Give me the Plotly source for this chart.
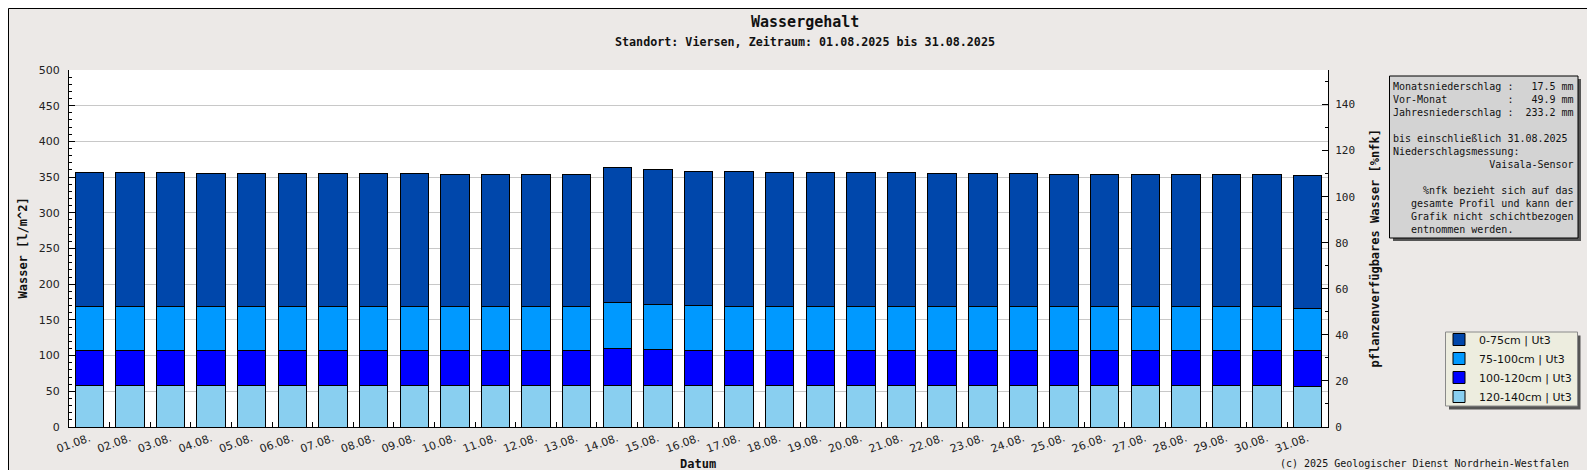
import plotly.graph_objects as go

# --- data (l/m^2 per layer, stacked) ---
DAYS = ["01.08.", "02.08.", "03.08.", "04.08.", "05.08.", "06.08.", "07.08.", "08.08.",
        "09.08.", "10.08.", "11.08.", "12.08.", "13.08.", "14.08.", "15.08.", "16.08.",
        "17.08.", "18.08.", "19.08.", "20.08.", "21.08.", "22.08.", "23.08.", "24.08.",
        "25.08.", "26.08.", "27.08.", "28.08.", "29.08.", "30.08.", "31.08."]
L120_140 = [57.8, 57.8, 57.8, 57.8, 57.8, 57.8, 57.8, 57.8, 57.8, 57.8, 57.8, 57.8, 57.8,
            58.2, 58.0, 57.8, 57.8, 57.8, 57.8, 57.8, 57.8, 57.8, 57.8, 57.8, 57.8, 57.8,
            57.8, 57.8, 57.8, 57.8, 56.5]
L100_120 = [49.2, 49.2, 49.2, 49.2, 49.2, 49.2, 49.2, 49.2, 49.2, 49.2, 49.2, 49.2, 49.2,
            51.6, 50.4, 49.2, 49.2, 49.2, 49.2, 49.2, 49.2, 49.2, 49.2, 49.2, 49.2, 49.2,
            49.2, 49.2, 49.2, 49.2, 50.5]
L75_100 = [62.0, 61.2, 61.2, 61.2, 61.2, 61.2, 61.2, 61.2, 61.2, 61.2, 61.2, 61.2, 61.2,
           63.9, 62.5, 62.5, 61.2, 61.2, 61.2, 61.2, 61.2, 61.2, 61.2, 61.2, 61.2, 61.2,
           61.2, 61.2, 61.2, 61.2, 59.5]
L0_75 = [187.0, 187.8, 187.8, 186.5, 186.5, 186.5, 186.5, 186.5, 186.5, 185.1, 185.1,
         185.1, 185.1, 190.3, 190.3, 188.9, 190.2, 188.8, 188.8, 188.8, 188.8, 187.4,
         187.4, 187.4, 186.0, 186.0, 186.0, 186.0, 186.0, 186.0, 186.3]
LAYERS = ["120-140cm | Ut3", "100-120cm | Ut3", "75-100cm | Ut3", "0-75cm | Ut3"]
INFO = [
    "Monatsniederschlag :   17.5 mm",
    "Vor-Monat          :   49.9 mm",
    "Jahresniederschlag :  233.2 mm",
    "",
    "bis einschließlich 31.08.2025",
    "Niederschlagsmessung:",
    "                Vaisala-Sensor",
    "",
    "     %nfk bezieht sich auf das",
    "   gesamte Profil und kann der",
    "   Grafik nicht schichtbezogen",
    "   entnommen werden.",
]

COLORS = ["#89cff0", "#0000ff", "#0099ff", "#0047ab"]
BG, GRID, INK = "#ece9e7", "#c8c8c8", "#111111"
MONO, SANS = "DejaVu Sans Mono", "DejaVu Sans"

W, H = 1595, 470
ML, MR, MT, MB = 61, 275, 62, 51
PW, PH = W - ML - MR, H - MT - MB


def px(x):
    return (x - ML) / PW


def py(y):
    return (H - MB - y) / PH


fig = go.Figure()
for name, vals, col in zip(LAYERS, [L120_140, L100_120, L75_100, L0_75], COLORS):
    fig.add_trace(go.Bar(x=DAYS, y=vals, name=name, marker=dict(color=col, line=dict(color="#000000", width=1))))
# empty trace so the right-hand %nfk axis gets drawn
fig.add_trace(go.Scatter(x=[], y=[], yaxis="y2", showlegend=False, hoverinfo="skip"))


def rect(x0, y0, x1, y1, fill, line=None, lw=1):
    return dict(type="rect", xref="paper", yref="paper", x0=px(x0), x1=px(x1), y0=py(y1), y1=py(y0),
                fillcolor=fill, line=dict(color=line or fill, width=lw if line else 0), layer="above")


shapes = [
    # page shadow + frame
    rect(1590, 0, 1595, 5, "#ffffff"), rect(0, 465, 5, 470, "#ffffff"),
    rect(1590, 5, 1595, 470, "#5c5c5c"), rect(5, 465, 1595, 470, "#5c5c5c"),
    dict(type="rect", xref="paper", yref="paper", x0=px(0.5), x1=px(1590), y0=py(465), y1=py(0.5),
         line=dict(color="#000000", width=1), layer="above"),
    # info box
    rect(1385, 71, 1573, 233, "#555555"),
    rect(1381.5, 68, 1570, 230, "#d3d3d3", "#000000"),
    # legend box
    rect(1441, 327.5, 1572.5, 401.5, "#555555"),
    rect(1437.5, 324, 1569.5, 398, "#ededdf", "#8a8a8a"),
]

nb = "\u00a0"
ann = [
    dict(text="<b>Wassergehalt</b>", x=px(797), y=py(14), font=dict(family=MONO, size=15, color=INK)),
    dict(text="<b>Standort: Viersen, Zeitraum: 01.08.2025 bis 31.08.2025</b>", x=px(797), y=py(33.5),
         font=dict(family=MONO, size=11.7, color=INK)),
    dict(text="<b>Wasser [l/m^2]</b>", x=px(14), y=0.5, textangle=-90, font=dict(family=MONO, size=12, color=INK)),
    dict(text="<b>pflanzenverfügbares Wasser [%nfk]</b>", x=px(1366), y=0.5, textangle=-90,
         font=dict(family=MONO, size=12, color=INK)),
    dict(text="<b>Datum</b>", x=px(690), y=py(456), font=dict(family=MONO, size=12, color=INK)),
    dict(text="(c) 2025 Geologischer Dienst Nordrhein-Westfalen", x=px(1563), y=py(455), xanchor="right",
         font=dict(family=MONO, size=10, color=INK)),
    dict(text="<br>".join(l.replace(" ", nb) if l else nb for l in INFO), x=px(1384), y=py(72),
         xanchor="left", yanchor="top", align="left", borderpad=0,
         font=dict(family=MONO, size=10, color=INK)),
]
for a in ann:
    a.setdefault("xanchor", "center")
    a.setdefault("yanchor", "middle")
    a.update(xref="paper", yref="paper", showarrow=False)

fig.update_layout(
    width=W, height=H, margin=dict(l=ML, r=MR, t=MT, b=MB),
    paper_bgcolor=BG, plot_bgcolor="#ffffff", barmode="stack", bargap=0.3,
    showlegend=True,
    legend=dict(x=px(1431), y=py(317), xanchor="left", yanchor="top", traceorder="reversed",
                bgcolor="rgba(0,0,0,0)", borderwidth=0, font=dict(family=SANS, size=11, color=INK)),
    xaxis=dict(type="category", tickson="boundaries", ticks="inside", ticklen=5, tickcolor="#000000",
               showline=True, linecolor="#000000", showgrid=False, tickangle=-20,
               tickfont=dict(family=SANS, size=11, color="#222222")),
    yaxis=dict(range=[0, 500], dtick=50, ticks="inside", ticklen=6, tickcolor="#000000",
               showline=True, linecolor="#000000", gridcolor=GRID, zeroline=False, ticklabelstandoff=6,
               minor=dict(dtick=10, ticks="inside", ticklen=3, tickcolor="#000000", showgrid=False),
               tickfont=dict(family=SANS, size=11, color="#222222")),
    yaxis2=dict(range=[0, 155], dtick=20, overlaying="y", side="right", ticks="inside", ticklen=6,
                tickcolor="#000000", showline=True, linecolor="#000000", showgrid=False, zeroline=False,
                ticklabelstandoff=4,
                minor=dict(dtick=10, ticks="inside", ticklen=3, tickcolor="#000000", showgrid=False),
                tickfont=dict(family=MONO, size=11, color="#222222")),
    shapes=shapes, annotations=ann,
)

fig.write_html("out.html")
